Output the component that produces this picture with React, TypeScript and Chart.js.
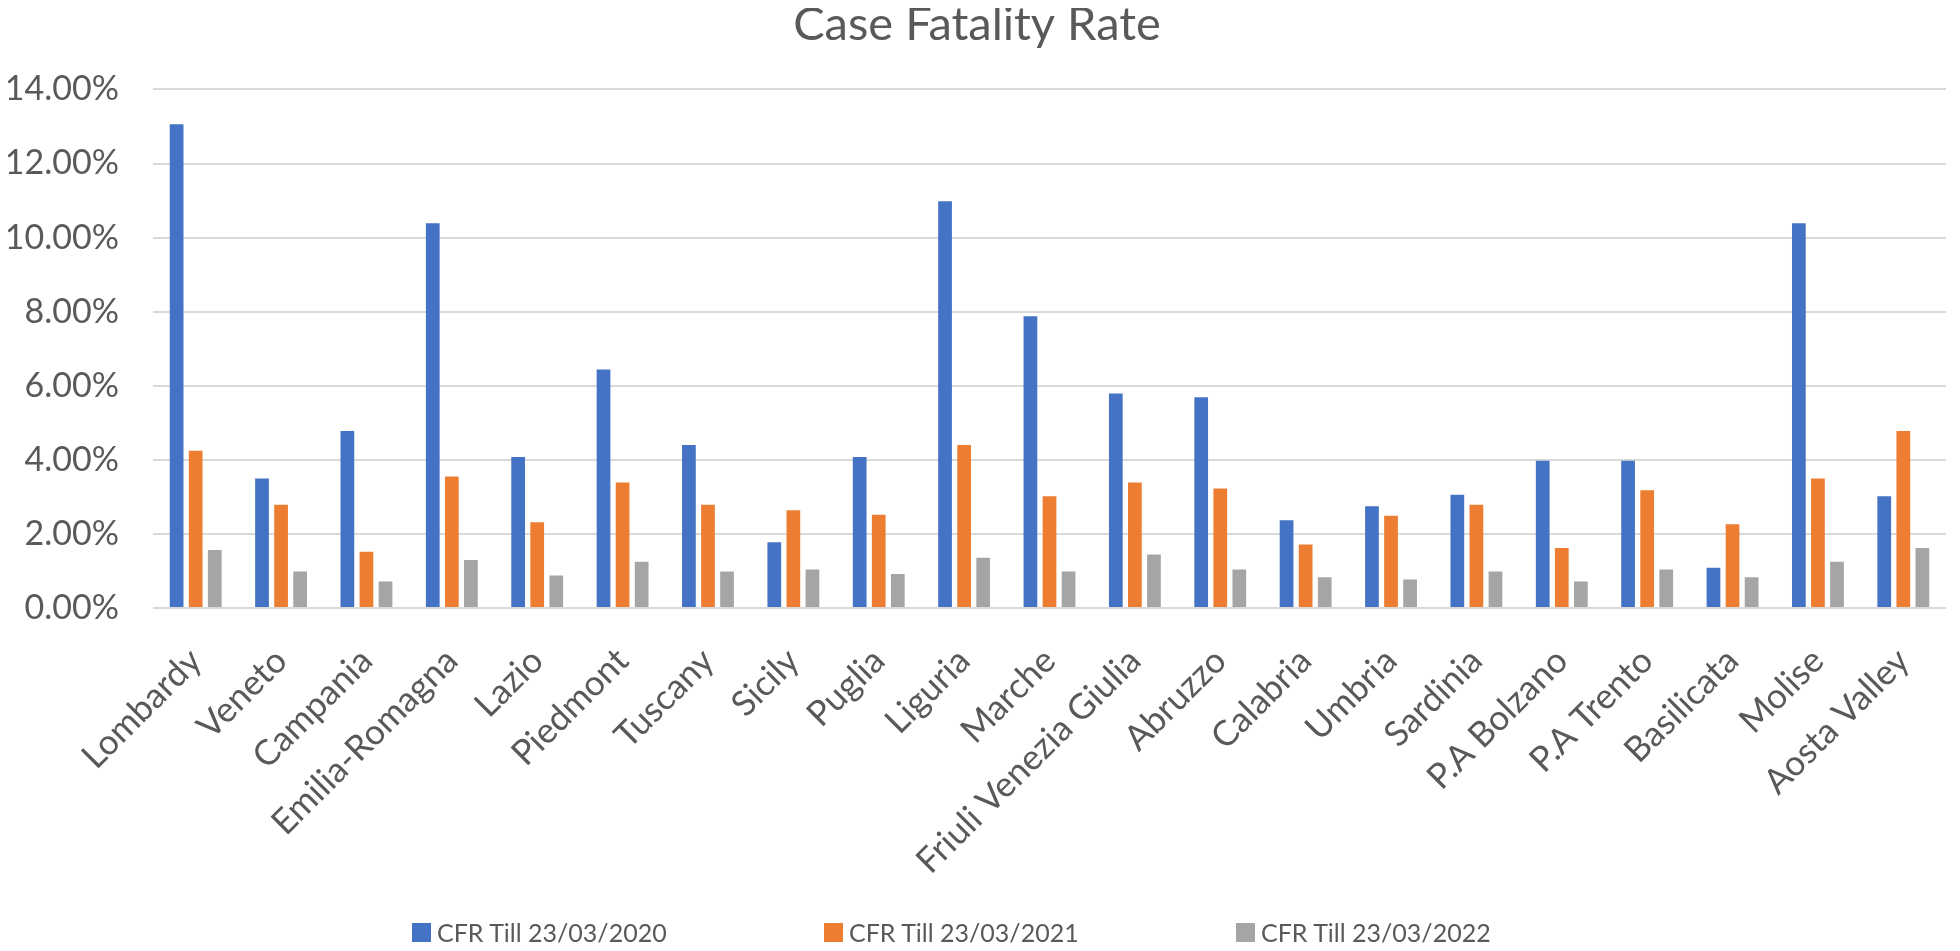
import React, { useEffect, useRef } from "react";
import { Chart, registerables } from "chart.js";

Chart.register(...registerables);

const categories = [
  "Lombardy", "Veneto", "Campania", "Emilia-Romagna", "Lazio", "Piedmont", "Tuscany",
  "Sicily", "Puglia", "Liguria", "Marche", "Friuli Venezia Giulia", "Abruzzo", "Calabria",
  "Umbria", "Sardinia", "P.A Bolzano", "P.A Trento", "Basilicata", "Molise", "Aosta Valley",
];

const cfr2020 = [13.06, 3.50, 4.78, 10.39, 4.08, 6.44, 4.40, 1.78, 4.08, 10.98, 7.88, 5.79, 5.69, 2.37, 2.75, 3.06, 3.98, 3.98, 1.09, 10.39, 3.02];
const cfr2021 = [4.25, 2.79, 1.52, 3.55, 2.32, 3.39, 2.79, 2.64, 2.52, 4.40, 3.02, 3.39, 3.23, 1.72, 2.49, 2.79, 1.62, 3.18, 2.26, 3.50, 4.78];
const cfr2022 = [1.57, 0.99, 0.72, 1.30, 0.88, 1.25, 0.99, 1.04, 0.92, 1.36, 0.99, 1.45, 1.04, 0.83, 0.77, 0.99, 0.72, 1.04, 0.83, 1.25, 1.62];

const seriesLabels = ["CFR Till 23/03/2020", "CFR Till 23/03/2021", "CFR Till 23/03/2022"];
const seriesColors = ["#4472C4", "#ED7D31", "#A5A5A5"];
const yTicks = [0, 2, 4, 6, 8, 10, 12, 14];

const FONT = "Lato, 'Open Sans', sans-serif";
const TEXT = "#595959";

export default function App() {
  const ref = useRef<HTMLCanvasElement | null>(null);
  useEffect(() => {
    if (!ref.current) return;
    const chart = new Chart(ref.current, {
      type: "bar",
      data: {
        labels: categories,
        datasets: [
          { label: seriesLabels[0], data: cfr2020, backgroundColor: seriesColors[0] },
          { label: seriesLabels[1], data: cfr2021, backgroundColor: seriesColors[1] },
          { label: seriesLabels[2], data: cfr2022, backgroundColor: seriesColors[2] },
        ],
      },
      options: {
        responsive: false,
        animation: false,
        layout: { padding: { left: 0, right: 6, top: 0, bottom: 37 } },
        datasets: { bar: { categoryPercentage: 0.67, barPercentage: 0.72 } },
        plugins: {
          title: {
            display: true,
            text: "Case Fatality Rate",
            color: TEXT,
            font: { family: FONT, size: 47, weight: "normal" },
            padding: { top: -11, bottom: 36 },
          },
          legend: { display: false },
          tooltip: { enabled: false },
        },
        scales: {
          x: {
            grid: { display: false },
            border: { display: false },
            afterFit: (axis: any) => {
              axis.paddingLeft = 0;
              axis.paddingRight = 0;
            },
            ticks: {
              color: TEXT,
              font: { family: FONT, size: 35 },
              minRotation: 45,
              maxRotation: 45,
              autoSkip: false,
              padding: 24,
            },
          },
          y: {
            min: 0,
            max: 14,
            afterBuildTicks: (axis: any) => {
              axis.ticks = yTicks.map((v) => ({ value: v }));
            },
            afterFit: (axis: any) => {
              axis.width = 145;
            },
            grid: { color: "#D9D9D9", lineWidth: 2, drawTicks: false },
            border: { display: false },
            ticks: {
              color: TEXT,
              font: { family: FONT, size: 34 },
              padding: 34,
              callback: (v: any) => Number(v).toFixed(2) + "%",
            },
          },
        },
      },
    });
    return () => chart.destroy();
  }, []);
  return (
    <div style={{ position: "relative", width: 1944, height: 935 }}>
      <canvas ref={ref} width={1944} height={935} style={{ display: "block" }} />
      <div
        style={{
          position: "absolute",
          left: 404,
          top: 908,
          height: 32,
          display: "flex",
          alignItems: "center",
          fontFamily: FONT,
          fontSize: 25,
          color: TEXT,
          whiteSpace: "nowrap",
        }}
      >
        {seriesLabels.map((label, i) => (
          <div key={label} style={{ width: 412, display: "flex", alignItems: "center" }}>
            <span style={{ display: "inline-block", width: 19, height: 19, background: seriesColors[i], marginRight: 6 }} />
            <span>{label}</span>
          </div>
        ))}
      </div>
    </div>
  );
}
